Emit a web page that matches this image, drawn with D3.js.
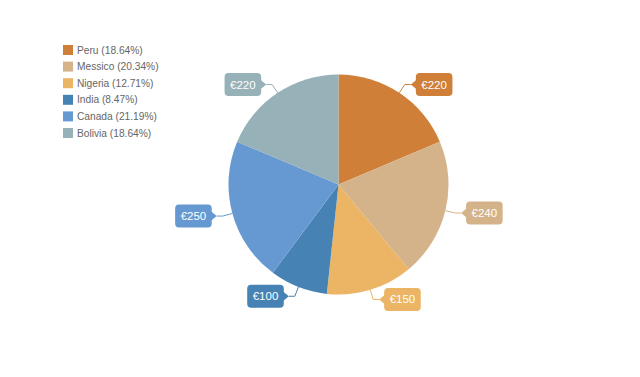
<!DOCTYPE html>
<html>
<head>
<meta charset="utf-8">
<script src="https://cdn.jsdelivr.net/npm/d3@7"></script>
<style>
  body { margin: 0; background: #fff; }
  svg { display: block; font-family: "Liberation Sans", Arial, sans-serif; }
</style>
</head>
<body>
<svg id="chart" width="640" height="377"></svg>
<script>
var countries = ['Peru', 'Messico', 'Nigeria', 'India', 'Canada', 'Bolivia'];
var amounts = [220, 240, 150, 100, 250, 220];
var colors = ['#CF7F38', '#D4B38B', '#EBB565', '#4682B4', '#6699D2', '#96B1B7'];

var width = 640, height = 377;
var cx = 338.5, cy = 184.5, radius = 110;

var svg = d3.select('#chart');
var total = d3.sum(amounts);
var data = countries.map(function(c, i){ return {name: c, value: amounts[i], color: colors[i]}; });

var pie = d3.pie().sort(null).value(function(d){ return d.value; });
var arc = d3.arc().innerRadius(0).outerRadius(radius);
var arcs = pie(data);

var g = svg.append('g').attr('transform', 'translate(' + cx + ',' + cy + ')');

g.selectAll('.slice')
    .data(arcs)
    .join('path')
    .attr('class', 'slice')
    .attr('d', arc)
    .attr('fill', function(d){ return d.data.color; });

// callout labels
arcs.forEach(function(d){
    var mid = (d.startAngle + d.endAngle) / 2;
    var sx = Math.sin(mid), sy = -Math.cos(mid);
    var p0 = [radius * sx, radius * sy];
    var p1 = [(radius + 10) * sx, (radius + 10) * sy];
    var dir = sx >= 0 ? 1 : -1;
    var tip = p1[0] + dir * 6;

    var lbl = g.append('g');
    var txt = lbl.append('text')
        .attr('font-size', 11.5)
        .attr('fill', '#fff')
        .attr('dominant-baseline', 'central')
        .text('€' + d.data.value);
    var tw = txt.node().getComputedTextLength();
    var bw = tw + 11, bh = 23;
    var bx = dir > 0 ? tip + 5 : tip - 5 - bw;
    var by = p1[1] - bh / 2;

    lbl.insert('polyline', 'text')
        .attr('points', [p0, p1, [tip, p1[1]]].map(function(p){ return p.join(','); }).join(' '))
        .attr('fill', 'none')
        .attr('stroke', d.data.color)
        .attr('stroke-width', 1);
    lbl.insert('rect', 'text')
        .attr('x', bx).attr('y', by)
        .attr('width', bw).attr('height', bh)
        .attr('rx', 4)
        .attr('fill', d.data.color);
    var edge = dir > 0 ? bx + 1 : bx + bw - 1;
    lbl.insert('polygon', 'text')
        .attr('points', [[tip, p1[1]], [edge, p1[1] - 5], [edge, p1[1] + 5]].map(function(p){ return p.join(','); }).join(' '))
        .attr('fill', d.data.color);

    txt.attr('x', bx + 5.5).attr('y', p1[1]);
});

// legend
var legend = svg.append('g').attr('transform', 'translate(63,50)');
var rows = legend.selectAll('.row')
    .data(data)
    .join('g')
    .attr('class', 'row')
    .attr('transform', function(d, i){ return 'translate(0,' + (i * 16.6) + ')'; });
rows.append('rect')
    .attr('x', 0).attr('y', -5)
    .attr('width', 10).attr('height', 10)
    .attr('fill', function(d){ return d.color; });
rows.append('text')
    .attr('x', 14).attr('y', 0)
    .attr('dominant-baseline', 'central')
    .attr('font-size', 10.2)
    .attr('fill', '#666')
    .text(function(d){ return d.name + ' (' + (d.value / total * 100).toFixed(2) + '%)'; });
</script>
</body>
</html>
